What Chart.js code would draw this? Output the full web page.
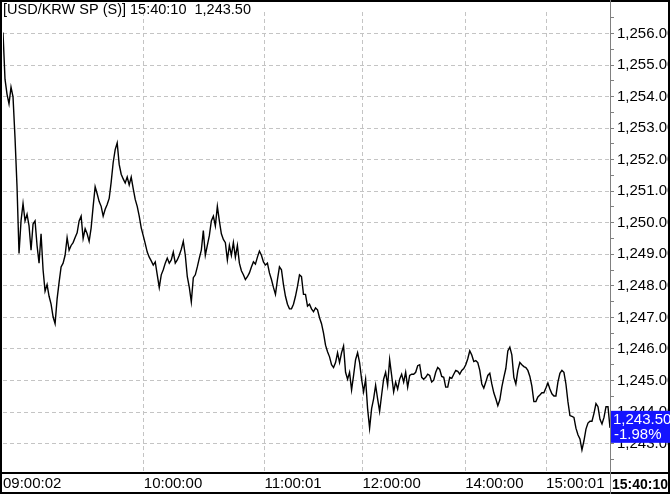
<!DOCTYPE html>
<html lang="en">
<head>
<meta charset="utf-8">
<title>USD/KRW SP</title>
<script src="https://cdn.jsdelivr.net/npm/chart.js@4/dist/chart.umd.min.js"></script>
<style>
  html, body { margin: 0; padding: 0; background: #fff; }
</style>
</head>
<body>
<canvas id="chart" width="670" height="494"></canvas>
<script>
  // header text
  const symbol = '[USD/KRW SP (S)]';
  const lastTime = '15:40:10';
  const changePct = '-1.98%';

  // price series, one sample per step
  const prices = [
    1256.03, 1254.55, 1254.08, 1253.77, 1254.30, 1253.99, 1252.69, 1251.14, 1249.03, 1250.06,
    1250.61, 1250.06, 1250.27, 1249.90, 1249.13, 1249.96, 1250.06, 1249.28, 1248.72, 1249.65,
    1248.51, 1247.83, 1248.04, 1247.67, 1247.42, 1247.02, 1246.80, 1247.58, 1248.11, 1248.60,
    1248.72, 1248.97, 1249.53, 1249.13, 1249.28, 1249.37, 1249.53, 1249.68, 1250.06, 1250.21,
    1249.50, 1249.81, 1249.65, 1249.41, 1249.84, 1250.52, 1251.14, 1250.92, 1250.67, 1250.52,
    1250.21, 1250.43, 1250.58, 1250.77, 1251.29, 1251.91, 1252.32, 1252.53, 1251.85, 1251.54,
    1251.39, 1251.26, 1251.45, 1251.20, 1251.45, 1251.08, 1250.74, 1250.52, 1250.21, 1249.84,
    1249.59, 1249.34, 1249.07, 1248.91, 1248.79, 1248.66, 1248.76, 1248.35, 1247.95, 1248.35,
    1248.51, 1248.72, 1248.88, 1248.72, 1248.82, 1249.07, 1248.72, 1248.82, 1248.97, 1249.16,
    1249.41, 1248.97, 1248.29, 1247.95, 1247.49, 1248.26, 1248.35, 1248.60, 1248.88, 1249.13,
    1249.75, 1248.97, 1249.28, 1249.59, 1250.06, 1250.21, 1249.90, 1250.52, 1250.06, 1249.65,
    1249.47, 1249.37, 1248.82, 1249.28, 1248.97, 1249.37, 1248.91, 1249.28, 1248.72, 1248.48,
    1248.35, 1248.20, 1248.29, 1248.41, 1248.60, 1248.76, 1248.69, 1248.91, 1249.10, 1248.97,
    1248.76, 1248.66, 1248.72, 1248.41, 1248.20, 1247.95, 1247.73, 1248.20, 1248.60, 1248.51,
    1248.04, 1247.67, 1247.42, 1247.27, 1247.27, 1247.42, 1247.67, 1247.98, 1248.35, 1248.29,
    1247.73, 1247.73, 1247.36, 1247.42, 1247.27, 1247.18, 1247.30, 1247.24, 1246.99, 1246.80,
    1246.50, 1246.12, 1245.91, 1245.75, 1245.50, 1245.41, 1245.57, 1245.88, 1245.57, 1245.88,
    1246.09, 1245.26, 1245.04, 1245.26, 1244.70, 1245.16, 1245.66, 1245.88, 1245.57, 1245.04,
    1244.64, 1245.04, 1244.11, 1243.49, 1244.11, 1244.42, 1244.85, 1244.42, 1244.02, 1244.54,
    1245.04, 1245.26, 1244.85, 1245.66, 1245.16, 1244.64, 1244.95, 1244.73, 1245.04, 1245.20,
    1244.95, 1245.26, 1244.79, 1245.16, 1245.20, 1245.20, 1245.26, 1245.47, 1245.50, 1245.10,
    1245.04, 1245.10, 1245.20, 1245.16, 1244.95, 1245.01, 1245.26, 1245.41, 1245.35, 1245.13,
    1245.10, 1244.79, 1244.79, 1245.10, 1245.07, 1245.20, 1245.32, 1245.29, 1245.20, 1245.32,
    1245.38, 1245.50, 1245.69, 1245.94, 1245.81, 1245.60, 1245.63, 1245.57, 1245.32, 1244.89,
    1244.76, 1244.95, 1245.16, 1245.23, 1244.89, 1244.61, 1244.42, 1244.20, 1244.39, 1244.79,
    1245.10, 1245.38, 1245.94, 1246.06, 1245.81, 1245.10, 1244.89, 1245.32, 1245.57, 1245.50,
    1245.44, 1245.41, 1245.32, 1245.13, 1244.82, 1244.33, 1244.33, 1244.48, 1244.54, 1244.61,
    1244.61, 1244.76, 1244.92, 1244.73, 1244.58, 1244.51, 1244.51, 1244.95, 1245.23, 1245.32,
    1245.26, 1244.89, 1244.33, 1243.89, 1243.86, 1243.83, 1243.49, 1243.28, 1243.15, 1242.80,
    1243.09, 1243.46, 1243.65, 1243.71, 1243.71, 1243.96, 1244.27, 1244.17, 1243.77, 1243.62,
    1243.83, 1244.17, 1244.17, 1243.50
  ];

  // time axis: sample index of each labelled grid line
  const timeTickIdx = [0, 70.3, 130.5, 179.4, 230.7, 271.1];
  const timeTickLabels = ['09:00:02', '10:00:00', '11:00:01', '12:00:00', '14:00:00', '15:00:01'];

  // price axis
  const priceTicks = [1243, 1244, 1245, 1246, 1247, 1248, 1249, 1250, 1251, 1252, 1253, 1254, 1255, 1256];
  const priceMin = 1242.10;
  const priceMax = 1256.68;

  const lastPrice = prices[prices.length - 1];
  const fmt = v => v.toLocaleString('en-US', { minimumFractionDigits: 2, maximumFractionDigits: 2 });

  Chart.defaults.font.family = "'Liberation Sans', Arial, sans-serif";
  Chart.defaults.font.size = 15;
  Chart.defaults.color = '#000';

  const gridGray = '#c4c4c4';

  // frame, header, last price box, last time label
  const overlay = {
    id: 'overlay',
    afterDraw(chart) {
      const ctx = chart.ctx;
      const area = chart.chartArea;
      const W = chart.width, H = chart.height;
      const yPix = chart.scales.y.getPixelForValue(lastPrice);
      ctx.save();

      ctx.strokeStyle = '#000';
      ctx.lineWidth = 2;
      ctx.strokeRect(1, 1, W - 2, H - 2);
      ctx.beginPath();
      ctx.moveTo(0, area.bottom + 1);
      ctx.lineTo(W, area.bottom + 1);
      ctx.stroke();

      ctx.strokeStyle = '#808080';
      ctx.lineWidth = 1;
      ctx.beginPath();
      ctx.moveTo(area.right + 0.5, 0);
      ctx.lineTo(area.right + 0.5, H);
      ctx.stroke();

      ctx.fillStyle = '#000';
      ctx.textBaseline = 'middle';
      ctx.textAlign = 'left';
      ctx.font = "14.5px 'Liberation Sans', Arial, sans-serif";
      ctx.fillText(symbol + ' ' + lastTime + '  ' + fmt(lastPrice), 3, 10);

      ctx.font = "bold 14px 'Liberation Sans', Arial, sans-serif";
      ctx.fillText(lastTime, area.right + 2, area.bottom + 13);

      ctx.fillStyle = 'rgb(20,20,255)';
      ctx.fillRect(area.right + 1, yPix - 17, W - area.right - 1, 32);
      ctx.fillStyle = '#fff';
      ctx.font = "15px 'Liberation Sans', Arial, sans-serif";
      ctx.fillText(fmt(lastPrice), area.right + 3, yPix - 8);
      ctx.fillText(changePct, area.right + 4, yPix + 7);

      ctx.restore();
    }
  };

  const ctx = document.getElementById('chart').getContext('2d');
  const chart = new Chart(ctx, {
    type: 'line',
    data: {
      datasets: [{
        data: prices.map((p, i) => ({ x: i, y: p })),
        borderColor: '#000',
        borderWidth: 1.4,
        pointRadius: 0,
        tension: 0
      }]
    },
    options: {
      responsive: false,
      animation: false,
      devicePixelRatio: 1,
      layout: { padding: { left: 2, top: 1, right: 0, bottom: 0 } },
      plugins: { legend: { display: false }, tooltip: { enabled: false } },
      scales: {
        x: {
          type: 'linear',
          min: 0,
          max: prices.length - 1,
          afterBuildTicks: scale => { scale.ticks = timeTickIdx.map(v => ({ value: v })); },
          afterFit: scale => { scale.height = 22; },
          ticks: {
            autoSkip: false,
            maxRotation: 0,
            align: 'start',
            padding: 3,
            callback: (v, i) => timeTickLabels[i]
          },
          grid: {
            drawTicks: false,
            color: c => c.index === 0 ? 'rgba(0,0,0,0)' : gridGray
          },
          border: { display: false, dash: [4, 3] }
        },
        y: {
          position: 'right',
          min: priceMin,
          max: priceMax,
          afterBuildTicks: scale => {
            const t = [];
            priceTicks.forEach(v => { t.push({ value: v - 0.5 }); t.push({ value: v }); });
            t.push({ value: priceTicks[priceTicks.length - 1] + 0.5 });
            scale.ticks = t;
          },
          afterFit: scale => { scale.width = 60; },
          ticks: {
            autoSkip: false,
            padding: 3,
            callback: v => (v % 1 === 0 ? fmt(v) : '')
          },
          grid: {
            tickLength: 4,
            tickColor: '#808080',
            color: c => (c.tick && c.tick.value % 1 === 0 ? gridGray : 'rgba(0,0,0,0)')
          },
          border: { display: false, dash: [4, 3] }
        }
      }
    },
    plugins: [overlay]
  });
</script>
</body>
</html>
